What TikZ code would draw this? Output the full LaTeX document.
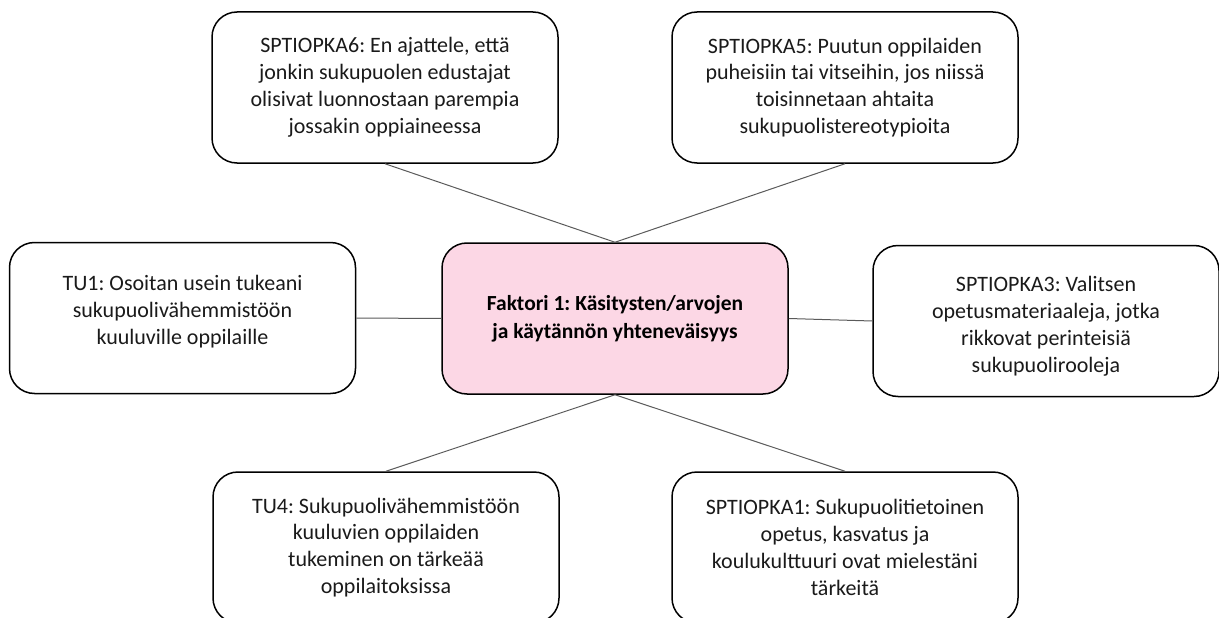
\documentclass[tikz,border=0pt]{standalone}
\usepackage{fontspec}
\setmainfont{Carlito}
\frenchspacing
\definecolor{pinkfill}{HTML}{FCD7E5}
\definecolor{txtc}{HTML}{1A1A1A}
\definecolor{connc}{HTML}{5A5A5A}
\begin{document}
\begin{tikzpicture}[x=1pt,y=-1pt,
  box/.style={draw=black, line width=1.5pt, rounded corners=25pt,
    minimum width=346pt, minimum height=151pt, align=center, inner sep=0pt,
    font=\fontsize{22}{26.9}\selectfont, text=txtc},
  centerbox/.style={box, fill=pinkfill, font=\fontsize{21.5}{28}\selectfont\bfseries, text=black},
  conn/.style={draw=connc, line width=1pt}]
\useasboundingbox (0,0) rectangle (1219,618);
\node[box] (b6) at (385,87.5) {SPTIOPKA6: En ajattele, että\\jonkin sukupuolen edustajat\\olisivat luonnostaan parempia\\jossakin oppiaineessa};
\node[box] (b5) at (845,87.5) {SPTIOPKA5: Puutun oppilaiden\\puheisiin tai vitseihin, jos niissä\\toisinnetaan ahtaita\\sukupuolistereotypioita};
\node[box] (tu1) at (182.5,318) {TU1: Osoitan usein tukeani\\sukupuolivähemmistöön\\kuuluville oppilaille\rule[-16pt]{0pt}{16pt}};
\node[centerbox] (c) at (615,318.5) {Faktori 1: Käsitysten/arvojen\\ja käytännön yhteneväisyys};
\node[box] (b3) at (1046,321) {\rule{0pt}{26pt}SPTIOPKA3: Valitsen\\opetusmateriaaleja, jotka\\rikkovat perinteisiä\\sukupuolirooleja};
\node[box] (tu4) at (386,547.5) {TU4: Sukupuolivähemmistöön\\kuuluvien oppilaiden\\tukeminen on tärkeää\\oppilaitoksissa};
\node[box] (b1) at (845,547.5) {SPTIOPKA1: Sukupuolitietoinen\\opetus, kasvatus ja\\koulukulttuuri ovat mielestäni\\tärkeitä};
\draw[conn] (b6.south) -- (c.north);
\draw[conn] (b5.south) -- (c.north);
\draw[conn] (tu1.east) -- (c.west);
\draw[conn] (c.east) -- (b3.west);
\draw[conn] (c.south) -- (tu4.north);
\draw[conn] (c.south) -- (b1.north);
\end{tikzpicture}
\end{document}
